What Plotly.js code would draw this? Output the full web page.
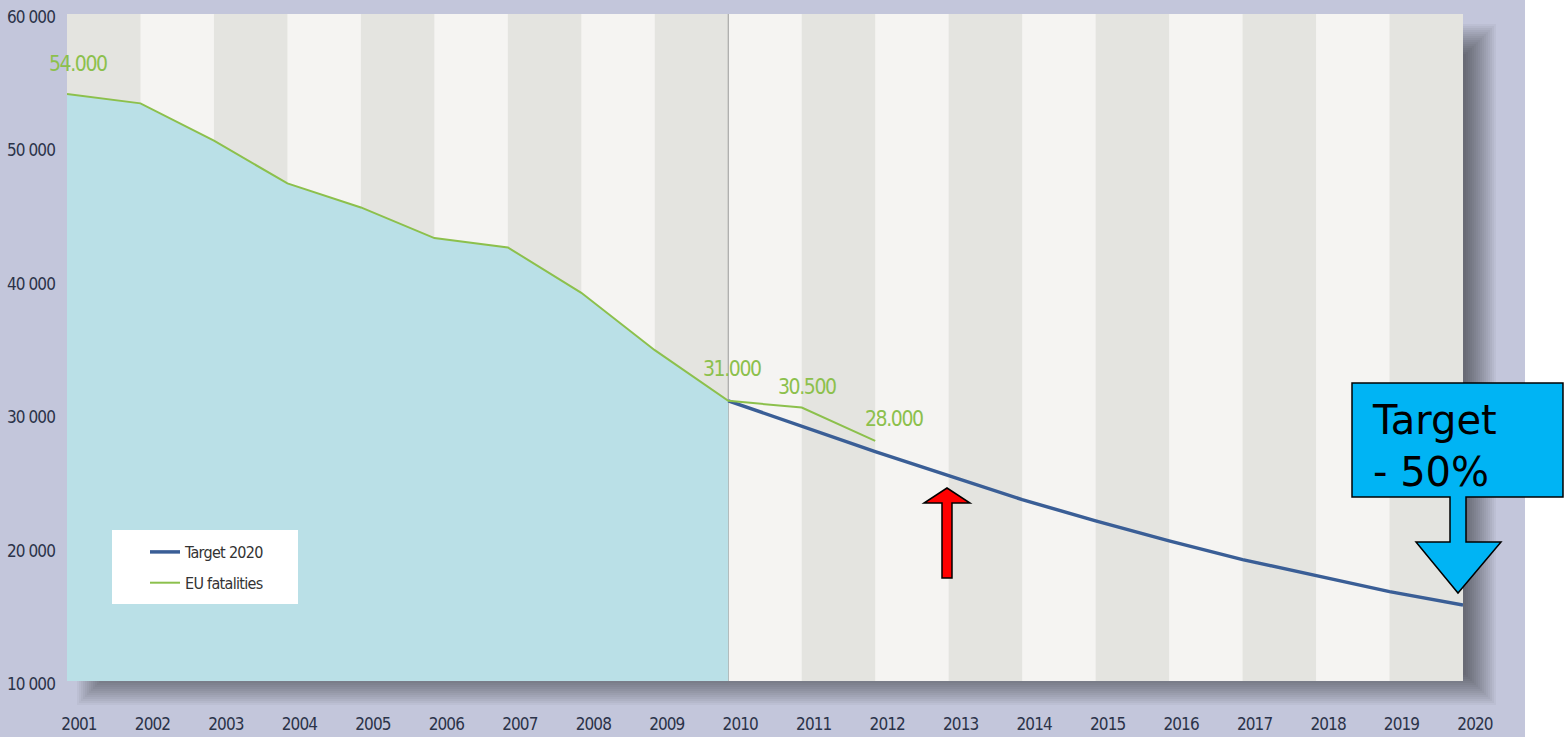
<!DOCTYPE html>
<html>
<head>
<meta charset="utf-8">
<script src="https://cdn.plot.ly/plotly-3.0.1.min.js"></script>
<style>
  html, body { margin: 0; padding: 0; background: #ffffff; }
  #chart { width: 1565px; height: 737px; }
  #chart .xtick text, #chart .ytick text { letter-spacing: -0.9px; }
  #chart .legendtext { letter-spacing: -0.7px; }
</style>
</head>
<body>
<div id="chart"></div>
<script>
// ---------- data ----------
const fatalityYears = [2001, 2002, 2003, 2004, 2005, 2006, 2007, 2008, 2009, 2010, 2011, 2012];
const fatalityValues = [54000, 53300, 50500, 47300, 45500, 43200, 42500, 39100, 34800, 31000, 30500, 28000];

const targetYears = [2010, 2011, 2012, 2013, 2014, 2015, 2016, 2017, 2018, 2019, 2020];
const targetValues = [31000, 29100, 27200, 25400, 23600, 22000, 20500, 19100, 17900, 16700, 15700];

const filledYears = [2001, 2002, 2003, 2004, 2005, 2006, 2007, 2008, 2009, 2010];
const labelledYears = [2001, 2010, 2011, 2012];

const xTickYears = [2001, 2002, 2003, 2004, 2005, 2006, 2007, 2008, 2009, 2010,
                    2011, 2012, 2013, 2014, 2015, 2016, 2017, 2018, 2019, 2020];
const yTickValues = [10000, 20000, 30000, 40000, 50000, 60000];

const seriesNames = ["Target 2020", "EU fatalities"];
const calloutText = "Target<br>- 50%";

// ---------- styling ----------
const NARROW = "'Liberation Sans Narrow', 'DejaVu Sans Condensed', 'Roboto Condensed', Arial Narrow, sans-serif";
const GREEN = "#8cc04c";
const BLUE = "#3a5e96";
const FILL = "#bae0e7";
const LAVENDER = "#c3c6db";

// plot frame in pixels (for decorative shapes in paper coordinates)
const W = 1565, H = 737;
const L = 67, R = 1463, T = 14, B = 681;
const px = x => (x - L) / (R - L);
const py = y => (B - y) / (B - T);

function poly(points) {
  return points.map((p, i) => (i ? "L" : "M") + px(p[0]).toFixed(5) + "," + py(p[1]).toFixed(5)).join(" ") + " Z";
}

const fmtDots = v => String(v).replace(/\B(?=(\d{3})+(?!\d))/g, ".");
const valueFor = yr => fatalityValues[fatalityYears.indexOf(yr)];
const fillValues = filledYears.map(valueFor);

// ---------- traces ----------
const traces = [
  {
    x: filledYears, y: fillValues, type: "scatter", mode: "lines",
    line: {width: 0, color: FILL}, fill: "tozeroy", fillcolor: FILL,
    showlegend: false, hoverinfo: "skip"
  },
  {
    x: targetYears, y: targetValues, type: "scatter", mode: "lines",
    name: seriesNames[0], legendgroup: "a",
    line: {color: BLUE, width: 3.5}
  },
  {
    x: fatalityYears, y: fatalityValues, type: "scatter", mode: "lines",
    name: seriesNames[1], legendgroup: "b",
    line: {color: GREEN, width: 2}
  }
];

// ---------- shapes ----------
const shapes = [];
// lavender backdrop
shapes.push({type: "rect", xref: "paper", yref: "paper", layer: "below",
  x0: px(0), x1: px(1525), y0: py(H), y1: py(0),
  fillcolor: LAVENDER, line: {width: 0}});
// soft drop shadow to the right and below (stacked translucent rectangles approximating a blur)
for (let r = -15; r <= 15; r += 2) {
  shapes.push({type: "rect", xref: "paper", yref: "paper", layer: "below",
    x0: px(L + 25 - r), x1: px(R + 18 + r),
    y0: py(B + 9 + r), y1: py(T + 25 - r),
    fillcolor: "rgba(0,0,14,0.036)", line: {width: 0}});
}
// plot backing (light stripe colour)
shapes.push({type: "rect", xref: "paper", yref: "paper", layer: "below",
  x0: 0, x1: 1, y0: 0, y1: 1, fillcolor: "#f5f4f2", line: {width: 0}});
// alternating (dark) year stripes
for (let i = 0; i < xTickYears.length - 1; i += 2) {
  shapes.push({type: "rect", xref: "x", yref: "paper", layer: "below",
    x0: xTickYears[i], x1: xTickYears[i + 1], y0: 0, y1: 1,
    fillcolor: "#e4e4e0", line: {width: 0}});
}
// 2010 divider
shapes.push({type: "line", xref: "x", yref: "paper", layer: "below",
  x0: 2010, x1: 2010, y0: 0, y1: 1, line: {color: "#9a9a9a", width: 1}});
// legend box
shapes.push({type: "rect", xref: "paper", yref: "paper", layer: "above",
  x0: px(112), x1: px(298), y0: py(604), y1: py(530),
  fillcolor: "#ffffff", line: {width: 0}});
// red arrow
shapes.push({type: "path", xref: "paper", yref: "paper", layer: "above",
  path: poly([[947, 488], [970, 503], [952, 503], [952, 578], [942, 578], [942, 503], [924, 503]]),
  fillcolor: "#ff0000", line: {color: "#000000", width: 1.5}});
// blue callout
shapes.push({type: "path", xref: "paper", yref: "paper", layer: "above",
  path: poly([[1352, 383], [1563, 383], [1563, 497], [1466, 497], [1466, 542], [1501, 542],
              [1458, 593], [1416, 542], [1450, 542], [1450, 497], [1352, 497]]),
  fillcolor: "#00b4f4", line: {color: "#000000", width: 1.5}});

// ---------- annotations ----------
const labelShift = {2001: [11, 30], 2010: [4, 32], 2011: [5, 21], 2012: [19, 22]};
const annotations = labelledYears.map(yr => ({
  x: yr, y: valueFor(yr), xref: "x", yref: "y",
  text: '<span style="letter-spacing:-1.4px">' + fmtDots(valueFor(yr)) + '</span>',
  showarrow: false,
  xshift: labelShift[yr][0], yshift: labelShift[yr][1],
  font: {family: NARROW, size: 21, color: GREEN}
}));
annotations.push({
  xref: "paper", yref: "paper", x: px(1370), y: py(446),
  xanchor: "left", yanchor: "middle", align: "left", showarrow: false,
  text: calloutText,
  font: {family: "'DejaVu Sans', sans-serif", size: 40, color: "#000000"}
});

// ---------- layout ----------
const layout = {
  width: W, height: H, autosize: false,
  margin: {l: L, r: W - R, t: T, b: H - B, pad: 0},
  paper_bgcolor: "#ffffff",
  plot_bgcolor: "rgba(0,0,0,0)",
  separators: ", ",
  showlegend: true,
  xaxis: {
    range: [2001, 2020], tickvals: xTickYears, ticks: "", showgrid: false,
    zeroline: false, showline: false, fixedrange: true,
    ticklabelshift: 12, ticklabelstandoff: 31,
    tickfont: {family: NARROW, size: 17, color: "#2b3349"}
  },
  yaxis: {
    range: [10000, 60000], tickvals: yTickValues, tickformat: ",d", ticks: "",
    showgrid: false, zeroline: false, showline: false, fixedrange: true,
    ticklabelstandoff: 11, ticklabelshift: 3,
    tickfont: {family: NARROW, size: 17, color: "#2b3349"}
  },
  legend: {
    x: px(145), y: py(535), xanchor: "left", yanchor: "top",
    bgcolor: "rgba(0,0,0,0)", borderwidth: 0,
    traceorder: "grouped", tracegroupgap: 7,
    font: {family: NARROW, size: 16, color: "#333333"}
  },
  shapes: shapes,
  annotations: annotations
};

Plotly.newPlot("chart", traces, layout, {displayModeBar: false, staticPlot: true});
</script>
</body>
</html>
